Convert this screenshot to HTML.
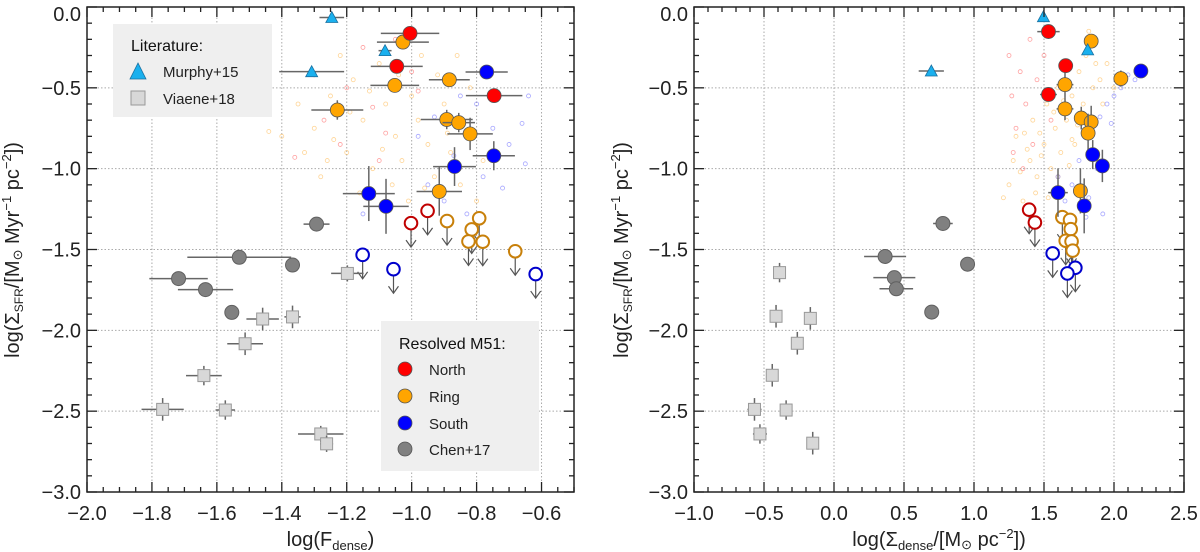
<!DOCTYPE html>
<html><head><meta charset="utf-8"><style>
body{margin:0;background:#fff;}
svg{display:block;font-family:"Liberation Sans",sans-serif;}
</style></head><body>
<svg id="c" width="1200" height="552" viewBox="0 0 1200 552"></svg>
<script>
// ---------- DATA (left panel: log F_dense) ----------
const L_north=[[-1.005,-0.163],[-1.046,-0.367],[-0.746,-0.548]];
const L_northXerr=[0.09,0.08,0.087];
const L_northYerr=[0.02,0.03,0.04];
const L_ring=[[-1.027,-0.217],[-0.884,-0.45],[-1.052,-0.485],[-1.229,-0.637],[-0.892,-0.696],[-0.855,-0.715],[-0.82,-0.785],[-0.915,-1.141]];
const L_ringXerr=[0.08,0.063,0.075,0.08,0.08,0.05,0.07,0.07];
const L_ringYerr=[0.02,0.04,0.04,0.06,0.06,0.06,0.1,0.15];
const L_south=[[-0.769,-0.402],[-0.747,-0.92],[-0.868,-0.987],[-1.132,-1.154],[-1.079,-1.233]];
const L_southXerr=[0.065,0.065,0.066,0.08,0.07];
const L_southYerr=[0.04,0.09,0.12,0.17,0.17];
const L_chen=[[-1.293,-1.343],[-1.531,-1.548],[-1.367,-1.596],[-1.718,-1.68],[-1.635,-1.748],[-1.554,-1.889]];
const L_chenXerr=[0.04,0.16,0.02,0.09,0.085,0.01];
const L_viaene=[[-1.198,-1.648],[-1.459,-1.93],[-1.367,-1.917],[-1.513,-2.083],[-1.64,-2.28],[-1.767,-2.489],[-1.574,-2.493],[-1.28,-2.641],[-1.262,-2.702]];
const L_viaeneXerr=[0.05,0.05,0.025,0.055,0.055,0.065,0.03,0.07,0.02];
const L_viaeneYerr=[0.05,0.07,0.07,0.07,0.06,0.07,0.06,0.05,0.05];
const L_murphy=[[-1.246,-0.065],[-1.082,-0.27],[-1.308,-0.4]];
const L_murphyXerr=[0.038,0.02,0.1];
const L_limNorth=[[-1.002,-1.337],[-0.951,-1.261]];
const L_limRing=[[-0.891,-1.324],[-0.792,-1.307],[-0.815,-1.376],[-0.825,-1.45],[-0.781,-1.452],[-0.681,-1.511]];
const L_limSouth=[[-1.151,-1.533],[-1.056,-1.622],[-0.618,-1.652]];
const L_dotsRing=[[-1.35,-0.6],[-1.3,-0.75],[-1.25,-0.55],[-1.2,-0.9],[-1.18,-0.45],[-1.15,-0.7],[-1.12,-1.0],[-1.1,-0.35],[-1.08,-0.6],[-1.05,-0.8],[-1.03,-0.95],[-1.0,-0.55],[-0.98,-0.7],[-0.95,-0.85],[-0.93,-1.05],[-0.9,-0.6],[-0.88,-0.9],[-0.85,-1.1],[-0.82,-0.5],[-0.8,-1.2],[-1.4,-0.8],[-1.28,-1.05],[-1.22,-0.3],[-1.16,-1.15],[-1.06,-1.1],[-0.97,-0.3],[-0.92,-0.42],[-1.33,-0.9],[-1.44,-0.77],[-1.13,-0.52],[-1.01,-1.2],[-0.86,-0.3],[-0.78,-0.95],[-1.24,-0.82],[-1.09,-0.88],[-0.96,-1.12],[-1.19,-0.65],[-1.04,-0.42],[-0.89,-0.78],[-1.26,-0.95]];
const L_dotsRed=[[-1.3,-0.42],[-1.27,-0.7],[-1.2,-0.5],[-1.15,-0.25],[-1.12,-0.62],[-1.08,-0.78],[-1.05,-0.2],[-1.0,-0.4],[-1.36,-0.93],[-1.22,-0.85],[-0.98,-0.52],[-1.1,-0.95]];
const L_dotsBlue=[[-0.95,-1.1],[-0.9,-1.2],[-0.85,-0.55],[-0.8,-0.6],[-0.78,-1.05],[-0.75,-0.75],[-0.7,-0.85],[-0.66,-0.72],[-0.64,-0.55],[-0.98,-0.8],[-0.87,-0.92],[-1.15,-1.28],[-0.83,-1.28],[-0.72,-1.12],[-0.93,-0.68],[-0.65,-0.97]];

// ---------- DATA (right panel: log Sigma_dense) ----------
const R_north=[[1.532,-0.152],[1.655,-0.363],[1.532,-0.541]];
const R_northXerr=[0.08,0.05,0.06];
const R_northYerr=[0.03,0.04,0.04];
const R_ring=[[1.837,-0.211],[2.049,-0.443],[1.65,-0.48],[1.65,-0.63],[1.766,-0.687],[1.837,-0.711],[1.815,-0.78],[1.76,-1.137]];
const R_ringXerr=[0.05,0.04,0.06,0.06,0.04,0.03,0.04,0.04];
const R_ringYerr=[0.04,0.05,0.08,0.07,0.07,0.1,0.12,0.14];
const R_south=[[2.192,-0.396],[1.848,-0.913],[1.917,-0.983],[1.6,-1.148],[1.787,-1.23]];
const R_southXerr=[0.03,0.03,0.03,0.07,0.04];
const R_southYerr=[0.04,0.09,0.1,0.15,0.17];
const R_chen=[[0.778,-1.339],[0.365,-1.543],[0.954,-1.591],[0.431,-1.674],[0.445,-1.743],[0.698,-1.887]];
const R_chenXerr=[0.07,0.15,0.02,0.15,0.12,0.02];
const R_viaene=[[-0.389,-1.643],[-0.414,-1.913],[-0.169,-1.926],[-0.262,-2.08],[-0.441,-2.278],[-0.568,-2.489],[-0.342,-2.493],[-0.529,-2.641],[-0.152,-2.698]];
const R_viaeneXerr=[0.03,0.02,0.04,0.04,0.04,0.05,0.03,0.05,0.02];
const R_viaeneYerr=[0.06,0.07,0.07,0.07,0.07,0.07,0.06,0.06,0.07];
const R_murphy=[[1.496,-0.06],[1.812,-0.265],[0.695,-0.396]];
const R_murphyXerr=[0.01,0.01,0.09];
const R_limNorth=[[1.394,-1.254],[1.435,-1.333]];
const R_limRing=[[1.631,-1.3],[1.686,-1.317],[1.691,-1.374],[1.655,-1.446],[1.697,-1.45],[1.705,-1.507]];
const R_limSouth=[[1.562,-1.524],[1.724,-1.613],[1.667,-1.648]];
const R_dotsRing=[[1.25,-1.1],[1.3,-0.8],[1.35,-1.2],[1.4,-0.95],[1.42,-0.7],[1.45,-1.05],[1.5,-0.85],[1.52,-0.6],[1.55,-1.0],[1.58,-0.75],[1.6,-0.5],[1.62,-0.9],[1.66,-0.7],[1.7,-0.55],[1.72,-0.85],[1.75,-0.4],[1.78,-0.6],[1.8,-0.3],[1.85,-0.5],[1.9,-0.45],[1.95,-0.35],[2.0,-0.5],[1.28,-0.95],[1.33,-1.02],[1.38,-0.88],[1.47,-0.78],[1.53,-1.18],[1.57,-0.65],[1.64,-0.58],[1.68,-0.98],[1.74,-0.73],[1.82,-0.15],[1.87,-0.35],[1.36,-0.78],[1.44,-1.15],[1.6,-1.05],[1.21,-1.18],[1.92,-0.6],[1.48,-0.92],[1.7,-0.82]];
const R_dotsRed=[[1.25,-0.3],[1.27,-0.55],[1.3,-0.75],[1.33,-0.4],[1.37,-0.6],[1.4,-0.2],[1.42,-0.85],[1.45,-0.45],[1.5,-0.3],[1.28,-0.9],[1.55,-0.7],[1.35,-1.0]];
const R_dotsBlue=[[1.6,-1.05],[1.65,-1.2],[1.7,-1.1],[1.75,-0.95],[1.8,-1.3],[1.85,-0.78],[1.9,-0.68],[1.95,-0.6],[2.0,-0.55],[2.05,-0.5],[2.1,-0.42],[2.15,-0.45],[1.88,-1.0],[1.82,-1.18],[1.98,-0.72],[1.92,-1.28]];

// ---------- drawing ----------
const svg=document.getElementById('c');
const NS='http://www.w3.org/2000/svg';
function mk(tag,attrs,parent){const e=document.createElementNS(NS,tag);for(const k in attrs)e.setAttribute(k,attrs[k]);(parent||svg).appendChild(e);return e;}
const Y_TOP=7,Y_BOT=492;
const yS=v=>Y_TOP-(v)*(Y_BOT-Y_TOP)/3;
const panels=[
 {id:'left',x0:87,x1:574,xmin:-2.0,xmax:-0.5,major:0.2,minor:0.05,
  north:L_north,northXe:L_northXerr,northYe:L_northYerr,ring:L_ring,ringXe:L_ringXerr,ringYe:L_ringYerr,
  south:L_south,southXe:L_southXerr,southYe:L_southYerr,chen:L_chen,chenXe:L_chenXerr,
  via:L_viaene,viaXe:L_viaeneXerr,viaYe:L_viaeneYerr,mur:L_murphy,murXe:L_murphyXerr,
  limN:L_limNorth,limR:L_limRing,limS:L_limSouth,dR:L_dotsRing,dN:L_dotsRed,dS:L_dotsBlue,titleX:19},
 {id:'right',x0:694,x1:1184,xmin:-1.0,xmax:2.5,major:0.5,minor:0.1,
  north:R_north,northXe:R_northXerr,northYe:R_northYerr,ring:R_ring,ringXe:R_ringXerr,ringYe:R_ringYerr,
  south:R_south,southXe:R_southXerr,southYe:R_southYerr,chen:R_chen,chenXe:R_chenXerr,
  via:R_viaene,viaXe:R_viaeneXerr,viaYe:R_viaeneYerr,mur:R_murphy,murXe:R_murphyXerr,
  limN:R_limNorth,limR:R_limRing,limS:R_limSouth,dR:R_dotsRing,dN:R_dotsRed,dS:R_dotsBlue,titleX:628}
];
const fmt=v=>(v<-1e-9?'\u2212':'')+Math.abs(v).toFixed(1);
panels.forEach(p=>{
 const xS=v=>p.x0+(v-p.xmin)*(p.x1-p.x0)/(p.xmax-p.xmin);
 const g=mk('g',{});
 
 
 const nMaj=Math.floor((p.xmax-p.xmin)/p.major+1e-6);
 for(let i=1;i<=nMaj;i++){const v=p.xmin+i*p.major;if(v>p.xmax-1e-6)continue;const x=xS(v);
  const l=mk('line',{x1:x,x2:x,y1:Y_TOP,y2:Y_BOT,stroke:'#aaa','stroke-width':1,'stroke-dasharray':'1.5,2'},g);
  
  }
 for(let i=1;i<6;i++){const y=yS(-0.5*i);
  const l=mk('line',{x1:p.x0,x2:p.x1,y1:y,y2:y,stroke:'#aaa','stroke-width':1,'stroke-dasharray':'1.5,2'},g);
  
  }
 const dot=(arr,col,nm)=>arr.forEach(d=>{const c=mk('circle',{cx:xS(d[0]),cy:yS(d[1]),r:2,fill:'none',stroke:col,'stroke-width':0.8,opacity:0.6},g);
  
  });
 dot(p.dR,'#ffb84d','ring-pixel-dot');dot(p.dN,'#ff6060','north-pixel-dot');dot(p.dS,'#6a6aff','south-pixel-dot');
 const err=(x,y,xe,ye)=>{
  if(xe)mk('line',{x1:xS(x-xe),x2:xS(x+xe),y1:yS(y),y2:yS(y),stroke:'#666','stroke-width':1.5},g);
  if(ye)mk('line',{x1:xS(x),x2:xS(x),y1:yS(y-ye),y2:yS(y+ye),stroke:'#666','stroke-width':1.5},g);};
 const lim=(arr,col,nm)=>arr.forEach(d=>{const x=xS(d[0]),y=yS(d[1]);
  mk('line',{x1:x,x2:x,y1:y,y2:y+24,stroke:'#555','stroke-width':1.2},g);
  mk('polyline',{points:`${x-5},${y+17} ${x},${y+24} ${x+5},${y+17}`,fill:'none',stroke:'#555','stroke-width':1.2},g);
  const c=mk('circle',{cx:x,cy:y,r:6.3,fill:'#fff',stroke:col,'stroke-width':2},g);
  
  });
 lim(p.limN,'#c00000','north-upper-limit');lim(p.limR,'#c8800a','ring-upper-limit');lim(p.limS,'#0000cc','south-upper-limit');
 p.via.forEach((d,i)=>{err(d[0],d[1],p.viaXe[i],p.viaYe[i]);
  const s=mk('rect',{x:xS(d[0])-6,y:yS(d[1])-6,width:12,height:12,fill:'#d8d8d8',stroke:'#999','stroke-width':1},g);
  
  });
 p.chen.forEach((d,i)=>{err(d[0],d[1],p.chenXe[i],0.03);
  const c=mk('circle',{cx:xS(d[0]),cy:yS(d[1]),r:7,fill:'#808080',stroke:'#606060','stroke-width':1},g);
  
  });
 const fill=(arr,xe,ye,col,nm)=>arr.forEach((d,i)=>{err(d[0],d[1],xe[i],ye[i]);
  const c=mk('circle',{cx:xS(d[0]),cy:yS(d[1]),r:7,fill:col,stroke:'#555','stroke-width':0.8},g);
  
  });
 fill(p.ring,p.ringXe,p.ringYe,'#ffa500','ring-point');
 fill(p.south,p.southXe,p.southYe,'#0000ff','south-point');
 fill(p.north,p.northXe,p.northYe,'#ff0000','north-point');
 p.mur.forEach((d,i)=>{err(d[0],d[1],p.murXe[i],0);const x=xS(d[0]),y=yS(d[1]);
  const t=mk('polygon',{points:`${x},${y-6} ${x-6},${y+5} ${x+6},${y+5}`,fill:'#1ab0ee',stroke:'#1a70a0','stroke-width':0.8},g);
  
  });
 const fr=mk('rect',{x:p.x0,y:Y_TOP,width:p.x1-p.x0,height:Y_BOT-Y_TOP,fill:'none',stroke:'#222','stroke-width':1.5},g);
 
 
 const nMin=Math.round((p.xmax-p.xmin)/p.minor);
 const per=Math.round(p.major/p.minor);
 for(let i=0;i<=nMin;i++){const v=p.xmin+i*p.minor,x=xS(v);
  const isMaj=(i%per)==0;const L=isMaj?10:5;
  mk('line',{x1:x,x2:x,y1:Y_BOT,y2:Y_BOT-L,stroke:'#222','stroke-width':1.3},g);
  mk('line',{x1:x,x2:x,y1:Y_TOP,y2:Y_TOP+L,stroke:'#222','stroke-width':1.3},g);}
 for(let i=0;i<=nMaj;i++){const v=p.xmin+i*p.major;if(v>p.xmax+1e-6)continue;const x=xS(v);
  const t=mk('text',{x:x,y:520,'font-size':20,'text-anchor':'middle',fill:'#222'},g);t.textContent=fmt(v);
  
  }
 for(let i=0;i<=30;i++){const v=-i*0.1,y=yS(v);const isMaj=i%5==0;const L=isMaj?10:5;
  mk('line',{x1:p.x0,x2:p.x0+L,y1:y,y2:y,stroke:'#222','stroke-width':1.3},g);
  mk('line',{x1:p.x1,x2:p.x1-L,y1:y,y2:y,stroke:'#222','stroke-width':1.3},g);
  if(isMaj){const t=mk('text',{x:p.x0-6,y:Math.max(y+7,21),'font-size':20,'text-anchor':'end',fill:'#222'},g);t.textContent=fmt(v);
   
   }}
 const yt=mk('text',{x:0,y:0,'font-size':20,'text-anchor':'middle',fill:'#222',transform:`translate(${p.titleX},250) rotate(-90)`},g);
 yt.innerHTML='log(Σ<tspan font-size="12" dy="4">SFR</tspan><tspan dy="-4">/[M</tspan><tspan font-size="13" dy="3">⊙</tspan><tspan dy="-3"> Myr</tspan><tspan font-size="13" dy="-8">−1</tspan><tspan dy="8">  pc</tspan><tspan font-size="13" dy="-8">−2</tspan><tspan dy="8">])</tspan>';
 
 
 const xt=mk('text',{x:(p.x0+p.x1)/2,y:546,'font-size':20,'text-anchor':'middle',fill:'#222'},g);
 if(p.id==='left')xt.innerHTML='log(F<tspan font-size="13" dy="4">dense</tspan><tspan dy="-4">)</tspan>';
 else xt.innerHTML='log(Σ<tspan font-size="13" dy="4">dense</tspan><tspan dy="-4">/[M</tspan><tspan font-size="13" dy="3">⊙</tspan><tspan dy="-3"> pc</tspan><tspan font-size="13" dy="-8">−2</tspan><tspan dy="8">])</tspan>';
 
 
});
const lg1=mk('g',{});


mk('rect',{x:113,y:24,width:159,height:93,fill:'#efefef'},lg1);
let tx=mk('text',{x:131,y:51,'font-size':16,fill:'#111'},lg1);tx.textContent='Literature:';
mk('polygon',{points:'138,63 130,79 146,79',fill:'#1ab0ee',stroke:'#1a70a0','stroke-width':0.8},lg1);
tx=mk('text',{x:163,y:77,'font-size':15,fill:'#222'},lg1);tx.textContent='Murphy+15';
mk('rect',{x:131,y:91,width:14,height:14,fill:'#d8d8d8',stroke:'#999'},lg1);
tx=mk('text',{x:163,y:104,'font-size':15,fill:'#222'},lg1);tx.textContent='Viaene+18';
const lg2=mk('g',{});


mk('rect',{x:381,y:321,width:158,height:150,fill:'#efefef'},lg2);
tx=mk('text',{x:399,y:349,'font-size':16,fill:'#111'},lg2);tx.textContent='Resolved M51:';
[['North','#ff0000',369],['Ring','#ffa500',396],['South','#0000ff',423],['Chen+17','#808080',449]].forEach(e=>{
 mk('circle',{cx:405,cy:e[2],r:7,fill:e[1],stroke:'#555','stroke-width':0.8},lg2);
 const tt=mk('text',{x:429,y:e[2]+6,'font-size':15,fill:'#222'},lg2);tt.textContent=e[0];
});
</script>
</body></html>
